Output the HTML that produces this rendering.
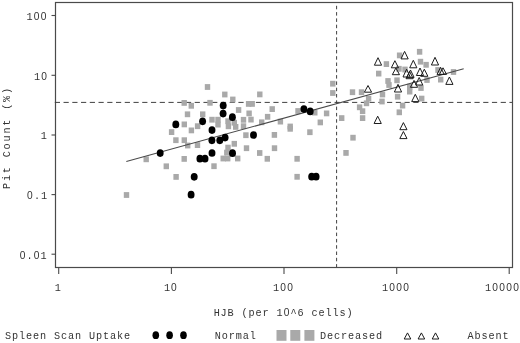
<!DOCTYPE html>
<html><head><meta charset="utf-8"><title>Pit Count vs HJB</title>
<style>html,body{margin:0;padding:0;background:#fff;width:520px;height:343px;overflow:hidden}svg{display:block}svg g.t{will-change:transform}text{font-family:"Liberation Mono",monospace}</style>
</head><body>
<svg width="520" height="343" viewBox="0 0 520 343">
<rect width="520" height="343" fill="#fff"/>
<rect x="55.5" y="2.5" width="457" height="265" fill="none" stroke="#4a4a4a" stroke-width="1.2"/>
<line x1="51.5" y1="15.5" x2="55.5" y2="15.5" stroke="#4a4a4a" stroke-width="1.1"/>
<line x1="51.5" y1="75.3" x2="55.5" y2="75.3" stroke="#4a4a4a" stroke-width="1.1"/>
<line x1="51.5" y1="135" x2="55.5" y2="135" stroke="#4a4a4a" stroke-width="1.1"/>
<line x1="51.5" y1="194.6" x2="55.5" y2="194.6" stroke="#4a4a4a" stroke-width="1.1"/>
<line x1="51.5" y1="254.2" x2="55.5" y2="254.2" stroke="#4a4a4a" stroke-width="1.1"/>
<line x1="58.7" y1="267.5" x2="58.7" y2="274" stroke="#4a4a4a" stroke-width="1.1"/>
<line x1="171.4" y1="267.5" x2="171.4" y2="274" stroke="#4a4a4a" stroke-width="1.1"/>
<line x1="284" y1="267.5" x2="284" y2="274" stroke="#4a4a4a" stroke-width="1.1"/>
<line x1="396.7" y1="267.5" x2="396.7" y2="274" stroke="#4a4a4a" stroke-width="1.1"/>
<line x1="509.2" y1="267.5" x2="509.2" y2="274" stroke="#4a4a4a" stroke-width="1.1"/>
<line x1="54.8" y1="102.4" x2="512" y2="102.4" stroke="#404040" stroke-width="1" stroke-dasharray="5.2 3.543"/>
<line x1="336.6" y1="5.8" x2="336.6" y2="267" stroke="#404040" stroke-width="1" stroke-dasharray="3.5 2.8"/>
<rect x="123.8" y="192.1" width="5.4" height="5.8" fill="#a9a9a9"/>
<rect x="143.5" y="156.4" width="5.4" height="5.8" fill="#a9a9a9"/>
<rect x="163.6" y="163.4" width="5.4" height="5.8" fill="#a9a9a9"/>
<rect x="168.9" y="129.2" width="5.4" height="5.8" fill="#a9a9a9"/>
<rect x="173.2" y="137.3" width="5.4" height="5.8" fill="#a9a9a9"/>
<rect x="173.4" y="174" width="5.4" height="5.8" fill="#a9a9a9"/>
<rect x="181.5" y="100" width="5.4" height="5.8" fill="#a9a9a9"/>
<rect x="188.6" y="102.9" width="5.4" height="5.8" fill="#a9a9a9"/>
<rect x="184.8" y="111.4" width="5.4" height="5.8" fill="#a9a9a9"/>
<rect x="200" y="111.4" width="5.4" height="5.8" fill="#a9a9a9"/>
<rect x="181.6" y="121.5" width="5.4" height="5.8" fill="#a9a9a9"/>
<rect x="188.7" y="127.5" width="5.4" height="5.8" fill="#a9a9a9"/>
<rect x="194.9" y="123.3" width="5.4" height="5.8" fill="#a9a9a9"/>
<rect x="181.6" y="137.3" width="5.4" height="5.8" fill="#a9a9a9"/>
<rect x="185" y="142.6" width="5.4" height="5.8" fill="#a9a9a9"/>
<rect x="194.8" y="142.2" width="5.4" height="5.8" fill="#a9a9a9"/>
<rect x="181.5" y="156" width="5.4" height="5.8" fill="#a9a9a9"/>
<rect x="207.3" y="99.9" width="5.4" height="5.8" fill="#a9a9a9"/>
<rect x="204.8" y="84.1" width="5.4" height="5.8" fill="#a9a9a9"/>
<rect x="222.1" y="91.6" width="5.4" height="5.8" fill="#a9a9a9"/>
<rect x="230.1" y="96.6" width="5.4" height="5.8" fill="#a9a9a9"/>
<rect x="235.9" y="107.1" width="5.4" height="5.8" fill="#a9a9a9"/>
<rect x="209.3" y="116.8" width="5.4" height="5.8" fill="#a9a9a9"/>
<rect x="215.3" y="116.8" width="5.4" height="5.8" fill="#a9a9a9"/>
<rect x="215.3" y="121.7" width="5.4" height="5.8" fill="#a9a9a9"/>
<rect x="225.3" y="118.3" width="5.4" height="5.8" fill="#a9a9a9"/>
<rect x="225.7" y="123.4" width="5.4" height="5.8" fill="#a9a9a9"/>
<rect x="231.6" y="119.8" width="5.4" height="5.8" fill="#a9a9a9"/>
<rect x="233" y="124" width="5.4" height="5.8" fill="#a9a9a9"/>
<rect x="240.8" y="116.9" width="5.4" height="5.8" fill="#a9a9a9"/>
<rect x="240.8" y="123.3" width="5.4" height="5.8" fill="#a9a9a9"/>
<rect x="243.2" y="132.3" width="5.4" height="5.8" fill="#a9a9a9"/>
<rect x="231.6" y="140.9" width="5.4" height="5.8" fill="#a9a9a9"/>
<rect x="225.3" y="144.7" width="5.4" height="5.8" fill="#a9a9a9"/>
<rect x="224.1" y="149.7" width="5.4" height="5.8" fill="#a9a9a9"/>
<rect x="220.5" y="155.6" width="5.4" height="5.8" fill="#a9a9a9"/>
<rect x="225" y="155.6" width="5.4" height="5.8" fill="#a9a9a9"/>
<rect x="235" y="155.6" width="5.4" height="5.8" fill="#a9a9a9"/>
<rect x="211.3" y="163.3" width="5.4" height="5.8" fill="#a9a9a9"/>
<rect x="243.8" y="145.3" width="5.4" height="5.8" fill="#a9a9a9"/>
<rect x="257" y="150.1" width="5.4" height="5.8" fill="#a9a9a9"/>
<rect x="264.6" y="155.9" width="5.4" height="5.8" fill="#a9a9a9"/>
<rect x="271.8" y="145.3" width="5.4" height="5.8" fill="#a9a9a9"/>
<rect x="271.7" y="132" width="5.4" height="5.8" fill="#a9a9a9"/>
<rect x="257.1" y="91.5" width="5.4" height="5.8" fill="#a9a9a9"/>
<rect x="245.9" y="101" width="5.4" height="5.8" fill="#a9a9a9"/>
<rect x="249.5" y="101" width="5.4" height="5.8" fill="#a9a9a9"/>
<rect x="246.4" y="110.5" width="5.4" height="5.8" fill="#a9a9a9"/>
<rect x="248.3" y="116.7" width="5.4" height="5.8" fill="#a9a9a9"/>
<rect x="259" y="119.4" width="5.4" height="5.8" fill="#a9a9a9"/>
<rect x="264.9" y="113.9" width="5.4" height="5.8" fill="#a9a9a9"/>
<rect x="269.5" y="106.2" width="5.4" height="5.8" fill="#a9a9a9"/>
<rect x="277.7" y="118.7" width="5.4" height="5.8" fill="#a9a9a9"/>
<rect x="287.5" y="123.6" width="5.4" height="5.8" fill="#a9a9a9"/>
<rect x="287.5" y="125.9" width="5.4" height="5.8" fill="#a9a9a9"/>
<rect x="294.4" y="155.9" width="5.4" height="5.8" fill="#a9a9a9"/>
<rect x="294.4" y="173.9" width="5.4" height="5.8" fill="#a9a9a9"/>
<rect x="295.3" y="108.1" width="5.4" height="5.8" fill="#a9a9a9"/>
<rect x="312.1" y="109.7" width="5.4" height="5.8" fill="#a9a9a9"/>
<rect x="323.9" y="110.5" width="5.4" height="5.8" fill="#a9a9a9"/>
<rect x="317.6" y="119.5" width="5.4" height="5.8" fill="#a9a9a9"/>
<rect x="307.2" y="129.3" width="5.4" height="5.8" fill="#a9a9a9"/>
<rect x="330.1" y="80.8" width="5.4" height="5.8" fill="#a9a9a9"/>
<rect x="330.1" y="90.1" width="5.4" height="5.8" fill="#a9a9a9"/>
<rect x="349.8" y="89.3" width="5.4" height="5.8" fill="#a9a9a9"/>
<rect x="358.8" y="89.3" width="5.4" height="5.8" fill="#a9a9a9"/>
<rect x="365.9" y="95.8" width="5.4" height="5.8" fill="#a9a9a9"/>
<rect x="363.8" y="100.4" width="5.4" height="5.8" fill="#a9a9a9"/>
<rect x="356.9" y="104.4" width="5.4" height="5.8" fill="#a9a9a9"/>
<rect x="359.9" y="108.3" width="5.4" height="5.8" fill="#a9a9a9"/>
<rect x="359.9" y="115.2" width="5.4" height="5.8" fill="#a9a9a9"/>
<rect x="339" y="115.2" width="5.4" height="5.8" fill="#a9a9a9"/>
<rect x="350.3" y="134.8" width="5.4" height="5.8" fill="#a9a9a9"/>
<rect x="343.3" y="150" width="5.4" height="5.8" fill="#a9a9a9"/>
<rect x="376" y="70.7" width="5.4" height="5.8" fill="#a9a9a9"/>
<rect x="383.7" y="61.2" width="5.4" height="5.8" fill="#a9a9a9"/>
<rect x="379.8" y="91.6" width="5.4" height="5.8" fill="#a9a9a9"/>
<rect x="379.3" y="98.6" width="5.4" height="5.8" fill="#a9a9a9"/>
<rect x="385.3" y="78.1" width="5.4" height="5.8" fill="#a9a9a9"/>
<rect x="386.3" y="82.1" width="5.4" height="5.8" fill="#a9a9a9"/>
<rect x="394.9" y="93.8" width="5.4" height="5.8" fill="#a9a9a9"/>
<rect x="399.9" y="102.7" width="5.4" height="5.8" fill="#a9a9a9"/>
<rect x="396.6" y="109.4" width="5.4" height="5.8" fill="#a9a9a9"/>
<rect x="396.9" y="52.5" width="5.4" height="5.8" fill="#a9a9a9"/>
<rect x="416.9" y="48.9" width="5.4" height="5.8" fill="#a9a9a9"/>
<rect x="417.8" y="58.8" width="5.4" height="5.8" fill="#a9a9a9"/>
<rect x="423.4" y="61.9" width="5.4" height="5.8" fill="#a9a9a9"/>
<rect x="407" y="88.7" width="5.4" height="5.8" fill="#a9a9a9"/>
<rect x="407" y="83.8" width="5.4" height="5.8" fill="#a9a9a9"/>
<rect x="419" y="95.7" width="5.4" height="5.8" fill="#a9a9a9"/>
<rect x="450.8" y="69.1" width="5.4" height="5.8" fill="#a9a9a9"/>
<rect x="438" y="76.7" width="5.4" height="5.8" fill="#a9a9a9"/>
<rect x="424.3" y="77.1" width="5.4" height="5.8" fill="#a9a9a9"/>
<rect x="396.3" y="65.9" width="5.4" height="5.8" fill="#a9a9a9"/>
<rect x="394.3" y="77.4" width="5.4" height="5.8" fill="#a9a9a9"/>
<rect x="402.3" y="66.6" width="5.4" height="5.8" fill="#a9a9a9"/>
<rect x="435.3" y="67.1" width="5.4" height="5.8" fill="#a9a9a9"/>
<rect x="418.3" y="85.1" width="5.4" height="5.8" fill="#a9a9a9"/>
<line x1="126.3" y1="161.4" x2="463.7" y2="68.8" stroke="#4a4a4a" stroke-width="1.05"/>
<ellipse cx="160.2" cy="153.1" rx="3.45" ry="3.85" fill="#000"/>
<ellipse cx="175.8" cy="124.4" rx="3.45" ry="3.85" fill="#000"/>
<ellipse cx="202.6" cy="121.3" rx="3.45" ry="3.85" fill="#000"/>
<ellipse cx="212" cy="130.1" rx="3.45" ry="3.85" fill="#000"/>
<ellipse cx="223.2" cy="105.6" rx="3.45" ry="3.85" fill="#000"/>
<ellipse cx="223.1" cy="113.6" rx="3.45" ry="3.85" fill="#000"/>
<ellipse cx="232.4" cy="117.2" rx="3.45" ry="3.85" fill="#000"/>
<ellipse cx="225.1" cy="137.6" rx="3.45" ry="3.85" fill="#000"/>
<ellipse cx="211.9" cy="140.3" rx="3.45" ry="3.85" fill="#000"/>
<ellipse cx="219.8" cy="140.3" rx="3.45" ry="3.85" fill="#000"/>
<ellipse cx="212" cy="153" rx="3.45" ry="3.85" fill="#000"/>
<ellipse cx="199.9" cy="158.7" rx="3.45" ry="3.85" fill="#000"/>
<ellipse cx="205" cy="158.7" rx="3.45" ry="3.85" fill="#000"/>
<ellipse cx="232.5" cy="153.2" rx="3.45" ry="3.85" fill="#000"/>
<ellipse cx="253.5" cy="135" rx="3.45" ry="3.85" fill="#000"/>
<ellipse cx="194.2" cy="176.8" rx="3.45" ry="3.85" fill="#000"/>
<ellipse cx="191.1" cy="194.7" rx="3.45" ry="3.85" fill="#000"/>
<ellipse cx="303.9" cy="109.1" rx="3.45" ry="3.85" fill="#000"/>
<ellipse cx="310.2" cy="111.4" rx="3.45" ry="3.85" fill="#000"/>
<ellipse cx="311.7" cy="176.7" rx="3.45" ry="3.85" fill="#000"/>
<ellipse cx="316.1" cy="176.7" rx="3.45" ry="3.85" fill="#000"/>
<path d="M368 85.5L371.6 92.2H364.4Z" fill="none" stroke="#1c1c1c" stroke-width="1"/>
<path d="M398 84.3L401.6 92H394.4Z" fill="none" stroke="#1c1c1c" stroke-width="1"/>
<path d="M378 57.7L381.6 65.2H374.4Z" fill="none" stroke="#1c1c1c" stroke-width="1"/>
<path d="M394.9 60.7L398.5 67.8H391.3Z" fill="none" stroke="#1c1c1c" stroke-width="1"/>
<path d="M404.6 51.4L408.2 58.9H401Z" fill="none" stroke="#1c1c1c" stroke-width="1"/>
<path d="M413.3 60.3L416.9 67.8H409.7Z" fill="none" stroke="#1c1c1c" stroke-width="1"/>
<path d="M406.6 69.2L410.2 77H403Z" fill="none" stroke="#1c1c1c" stroke-width="1"/>
<path d="M410.5 70L414.1 77.4H406.9Z" fill="none" stroke="#1c1c1c" stroke-width="1"/>
<path d="M420 68L423.6 75.5H416.4Z" fill="none" stroke="#1c1c1c" stroke-width="1"/>
<path d="M424.3 69.2L427.9 76.3H420.7Z" fill="none" stroke="#1c1c1c" stroke-width="1"/>
<path d="M419.2 77.5L422.8 85H415.6Z" fill="none" stroke="#1c1c1c" stroke-width="1"/>
<path d="M414 80.4L417.6 87.3H410.4Z" fill="none" stroke="#1c1c1c" stroke-width="1"/>
<path d="M415.3 94.3L418.9 101.6H411.7Z" fill="none" stroke="#1c1c1c" stroke-width="1"/>
<path d="M435 57.3L438.6 65H431.4Z" fill="none" stroke="#1c1c1c" stroke-width="1"/>
<path d="M440.6 67.3L444.2 74.4H437Z" fill="none" stroke="#1c1c1c" stroke-width="1"/>
<path d="M443 67.8L446.6 74.4H439.4Z" fill="none" stroke="#1c1c1c" stroke-width="1"/>
<path d="M449.4 77L453 84.4H445.8Z" fill="none" stroke="#1c1c1c" stroke-width="1"/>
<path d="M377.7 116.2L381.3 123.5H374.1Z" fill="none" stroke="#1c1c1c" stroke-width="1"/>
<path d="M403.4 122.6L407 129.7H399.8Z" fill="none" stroke="#1c1c1c" stroke-width="1"/>
<path d="M403.4 131.5L407 138.6H399.8Z" fill="none" stroke="#1c1c1c" stroke-width="1"/>
<path d="M409.6 71.4L413.2 78.7H406Z" fill="none" stroke="#1c1c1c" stroke-width="1"/>
<path d="M395.9 68L399.5 74.7H392.3Z" fill="none" stroke="#1c1c1c" stroke-width="1"/>
<ellipse cx="155.8" cy="335.2" rx="3.3" ry="3.9" fill="#000"/>
<ellipse cx="169.6" cy="335.2" rx="3.3" ry="3.9" fill="#000"/>
<ellipse cx="183.5" cy="335.2" rx="3.3" ry="3.9" fill="#000"/>
<rect x="276.5" y="330" width="10" height="10.8" fill="#a9a9a9"/>
<rect x="290.3" y="330" width="10" height="10.8" fill="#a9a9a9"/>
<rect x="304.4" y="330" width="10" height="10.8" fill="#a9a9a9"/>
<path d="M407.5 332.9L410.8 339H404.2Z" fill="none" stroke="#1c1c1c" stroke-width="1"/>
<path d="M421.4 332.9L424.7 339H418.1Z" fill="none" stroke="#1c1c1c" stroke-width="1"/>
<path d="M435.5 332.9L438.8 339H432.2Z" fill="none" stroke="#1c1c1c" stroke-width="1"/>
<g class="t" font-family="Liberation Mono, monospace" font-size="10.2" letter-spacing="0.88" fill="#333">
<text x="26.58" y="20.1">1<tspan font-family="Liberation Sans" font-size="10.2" dx="0.2" letter-spacing="1.13">0</tspan><tspan font-family="Liberation Sans" font-size="10.2" dx="0.2" letter-spacing="1.13">0</tspan></text>
<text x="33.98" y="79.9">1<tspan font-family="Liberation Sans" font-size="10.2" dx="0.2" letter-spacing="1.13">0</tspan></text>
<text x="40.66" y="139.2">1</text>
<text x="26.9" y="199.2"><tspan font-family="Liberation Sans" font-size="10.2" dx="0.2" letter-spacing="1.13">0</tspan>.1</text>
<text x="19.62" y="258.8"><tspan font-family="Liberation Sans" font-size="10.2" dx="0.2" letter-spacing="1.13">0</tspan>.<tspan font-family="Liberation Sans" font-size="10.2" dx="0.2" letter-spacing="1.13">0</tspan>1</text>
<text x="54.7" y="291.2">1</text>
<text x="163.92" y="291.2">1<tspan font-family="Liberation Sans" font-size="10.2" dx="0.2" letter-spacing="1.13">0</tspan></text>
<text x="273.02" y="291.2">1<tspan font-family="Liberation Sans" font-size="10.2" dx="0.2" letter-spacing="1.13">0</tspan><tspan font-family="Liberation Sans" font-size="10.2" dx="0.2" letter-spacing="1.13">0</tspan></text>
<text x="382.04" y="291.2">1<tspan font-family="Liberation Sans" font-size="10.2" dx="0.2" letter-spacing="1.13">0</tspan><tspan font-family="Liberation Sans" font-size="10.2" dx="0.2" letter-spacing="1.13">0</tspan><tspan font-family="Liberation Sans" font-size="10.2" dx="0.2" letter-spacing="1.13">0</tspan></text>
<text x="485" y="291.2">1<tspan font-family="Liberation Sans" font-size="10.2" dx="0.2" letter-spacing="1.13">0</tspan><tspan font-family="Liberation Sans" font-size="10.2" dx="0.2" letter-spacing="1.13">0</tspan><tspan font-family="Liberation Sans" font-size="10.2" dx="0.2" letter-spacing="1.13">0</tspan><tspan font-family="Liberation Sans" font-size="10.2" dx="0.2" letter-spacing="1.13">0</tspan></text>
<text x="213.64" y="316.3">HJB (per 1<tspan font-family="Liberation Sans" font-size="10.2" dx="0.2" letter-spacing="1.13">0</tspan>^6 cells)</text>
<text x="5.04" y="339.3">Spleen Scan Uptake</text>
<text x="214.78" y="339.3">Normal</text>
<text x="320.12" y="339.3">Decreased</text>
<text x="467.5" y="339.3">Absent</text>
<text transform="translate(10,189) rotate(-90)" letter-spacing="1.8">Pit Count (%)</text>
</g>
</svg>
</body></html>
